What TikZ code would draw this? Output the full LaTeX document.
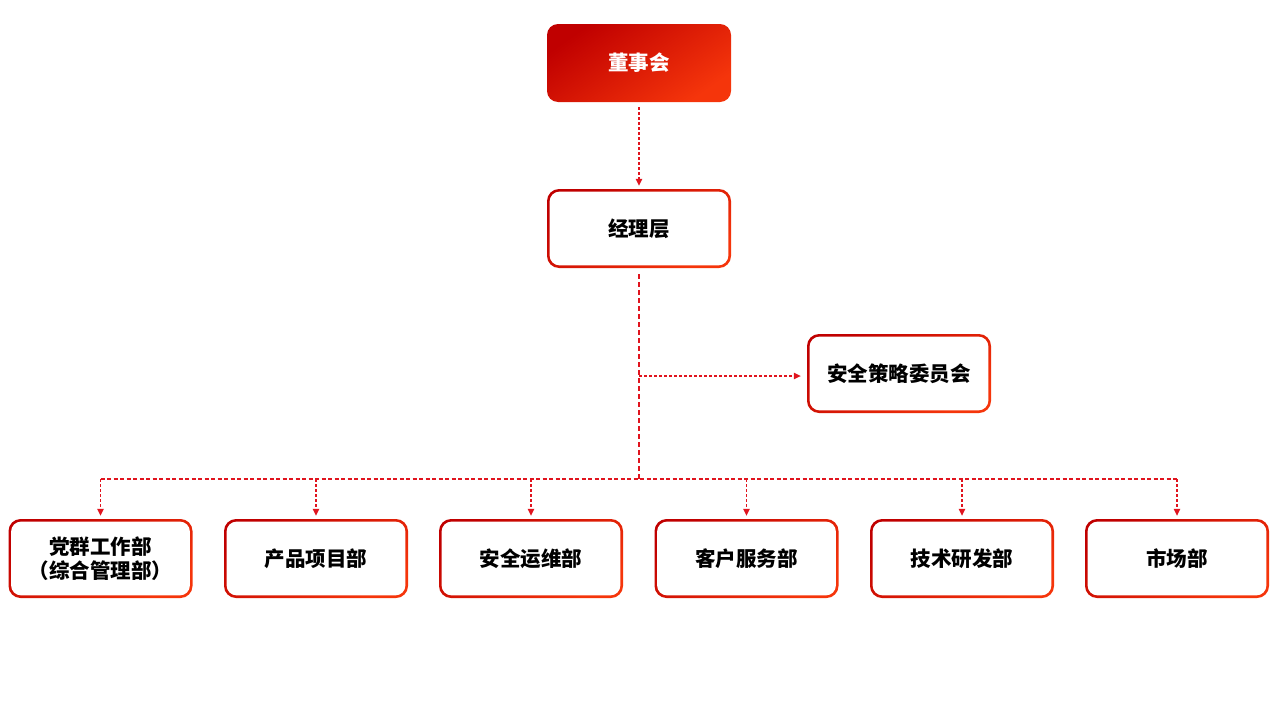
\documentclass[tikz,border=0pt]{standalone}
\usepackage{fontspec}
\setmainfont{Liberation Serif}
\newfontfamily\cjk{Noto Sans CJK SC}
\usetikzlibrary{arrows.meta}
\definecolor{darkred}{HTML}{C00000}
\definecolor{orangered}{HTML}{F5350B}
\definecolor{linered}{HTML}{E0141E}
\tikzset{
  box/.style={minimum width=184pt, minimum height=79pt, rounded corners=12pt,
    inner sep=0pt, align=center, font=\cjk\bfseries\fontsize{20.5}{24}\selectfont,
    left color=orangered, right color=darkred, shading angle=-145,
    path picture={\fill[white, rounded corners=10pt]
      ([shift={(2.6pt,-2.6pt)}]path picture bounding box.north west) rectangle
      ([shift={(-2.6pt,2.6pt)}]path picture bounding box.south east);}},
  topbox/.style={minimum width=184pt, minimum height=78pt, rounded corners=11pt,
    inner sep=0pt, text=white, font=\cjk\bfseries\fontsize{20.5}{24}\selectfont,
    left color=orangered, right color=darkred, shading angle=-145},
  thin/.style={draw=linered, line width=1.1pt, dash pattern=on 3pt off 2pt,
    -{Triangle[width=6.5pt,length=7pt]}},
  thick/.style={draw=linered, line width=2pt, dash pattern=on 5pt off 3pt},
  mid/.style={draw=linered, line width=1.6pt, dash pattern=on 4pt off 2.5pt}
}
\begin{document}
\begin{tikzpicture}[x=1pt,y=-1pt]
\useasboundingbox (0,0) rectangle (1280,720);
\node[topbox] (board) at (639,63) {董事会};
\node[box] (mgr) at (639,228.5) {经理层};
\node[box] (sec) at (899,373.5) {安全策略委员会};
\node[box] (d1) at (100.5,558.5) {党群工作部\\（综合管理部）};
\node[box] (d2) at (316,558.5) {产品项目部};
\node[box] (d3) at (531,558.5) {安全运维部};
\node[box] (d4) at (746.5,558.5) {客户服务部};
\node[box] (d5) at (962,558.5) {技术研发部};
\node[box] (d6) at (1177,558.5) {市场部};
\coordinate (j1) at (639,376);
\coordinate (j2) at (639,479);
\coordinate (hl) at (100.5,479);
\coordinate (hr) at (1177,479);
\draw[thin] ([yshift=-5pt]board.south) -- ([yshift=3pt]mgr.north);
\draw[thick] ([yshift=-6pt]mgr.south) -- (j2);
\draw[thin] (j1) -- ([xshift=-6pt]sec.west |- j1);
\draw[mid] (hl) -- (hr);
\foreach \d in {d1,d2,d3,d4,d5,d6}{
  \draw[thin] (\d.north |- j2) -- ([yshift=3pt]\d.north);
}
\end{tikzpicture}
\end{document}
